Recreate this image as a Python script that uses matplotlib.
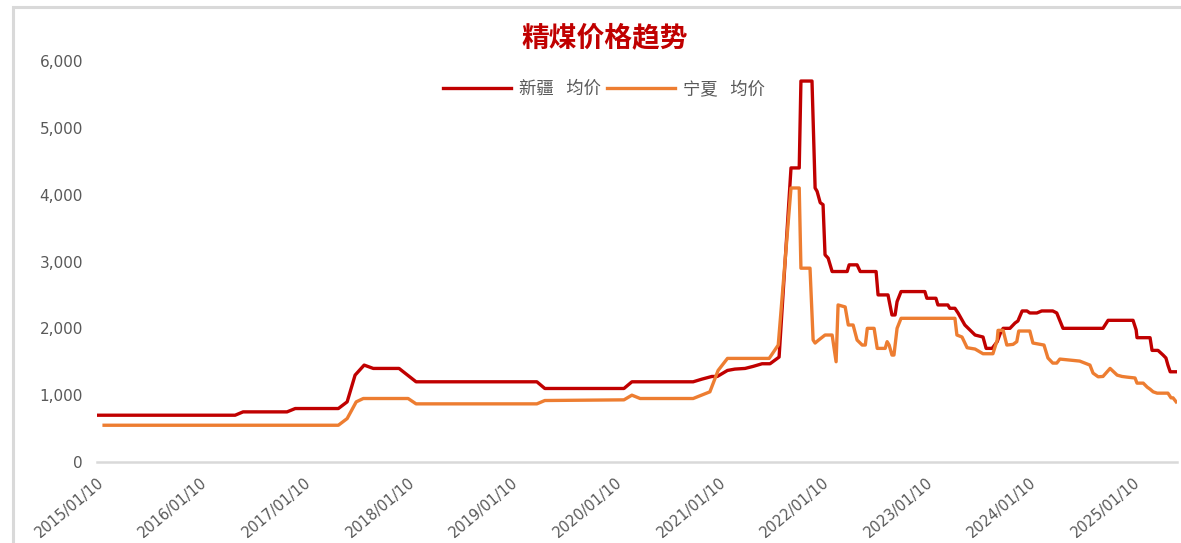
import matplotlib
matplotlib.use('Agg')
import matplotlib.pyplot as plt
import matplotlib.transforms as mtransforms
from matplotlib.patches import Rectangle
from matplotlib.ticker import FuncFormatter
import pandas as pd

plt.rcParams['font.family'] = ['Noto Sans CJK SC', 'DejaVu Sans']

# 新疆 均价 (转折点)
xj_dates = ['2015-01-10', '2016-05-11', '2016-06-08', '2016-11-10', '2016-12-09',
            '2017-05-10', '2017-06-10', '2017-07-08', '2017-08-09', '2017-09-10',
            '2017-12-10', '2018-02-08', '2019-04-10', '2019-05-08', '2020-02-11',
            '2020-03-10', '2020-10-12', '2020-11-12', '2020-12-17', '2021-01-05',
            '2021-02-10', '2021-03-08', '2021-04-13', '2021-05-11', '2021-06-12',
            '2021-07-10', '2021-08-11', '2021-09-22', '2021-10-21', '2021-10-27',
            '2021-12-05', '2021-12-16', '2021-12-23', '2022-01-03', '2022-01-13',
            '2022-01-20', '2022-01-31', '2022-02-14', '2022-04-08', '2022-04-15',
            '2022-05-13', '2022-05-24', '2022-07-19', '2022-07-26', '2022-08-30',
            '2022-09-13', '2022-09-24', '2022-10-01', '2022-10-15', '2023-01-07',
            '2023-01-14', '2023-02-15', '2023-02-22', '2023-03-29', '2023-04-05',
            '2023-04-23', '2023-05-04', '2023-05-18', '2023-05-28', '2023-06-15',
            '2023-07-03', '2023-07-31', '2023-08-11', '2023-09-01', '2023-09-19',
            '2023-09-29', '2023-10-10', '2023-11-03', '2023-11-21', '2023-12-01',
            '2023-12-16', '2024-01-02', '2024-01-12', '2024-02-06', '2024-02-23',
            '2024-04-02', '2024-04-16', '2024-05-08', '2024-09-26', '2024-10-14',
            '2025-01-10', '2025-01-21', '2025-01-24', '2025-03-11', '2025-03-18',
            '2025-04-08', '2025-04-26', '2025-05-06', '2025-05-13', '2025-05-21',
            '2025-06-11']
xj_price = [700, 700, 750, 750, 800,
            800, 900, 1300, 1450, 1400,
            1400, 1200, 1200, 1100, 1100,
            1200, 1200, 1240, 1280, 1280,
            1370, 1390, 1400, 1430, 1470,
            1470, 1570, 4400, 4400, 5700,
            5700, 4100, 4050, 3880, 3850,
            3100, 3050, 2850, 2850, 2950,
            2950, 2850, 2850, 2500, 2500,
            2200, 2200, 2400, 2550, 2550,
            2450, 2450, 2350, 2350, 2300,
            2300, 2230, 2125, 2050, 1975,
            1900, 1870, 1700, 1700, 1800,
            1915, 2000, 2000, 2080, 2110,
            2260, 2260, 2230, 2230, 2260,
            2260, 2230, 2000, 2000, 2120,
            2120, 1975, 1860, 1860, 1670,
            1670, 1600, 1556, 1450, 1350,
            1350]

# 宁夏 均价 (转折点)
nx_dates = ['2015-02-04', '2017-05-10', '2017-06-10', '2017-07-12', '2017-08-06',
            '2018-01-11', '2018-02-08', '2019-04-10', '2019-05-08', '2020-02-11',
            '2020-03-10', '2020-04-08', '2020-10-12', '2020-12-10', '2021-01-08',
            '2021-02-10', '2021-07-07', '2021-08-08', '2021-09-22', '2021-10-21',
            '2021-10-27', '2021-11-28', '2021-12-09', '2021-12-16', '2021-12-27',
            '2022-01-20', '2022-02-14', '2022-02-28', '2022-03-07', '2022-04-01',
            '2022-04-12', '2022-04-29', '2022-05-13', '2022-05-31', '2022-06-11',
            '2022-06-18', '2022-07-12', '2022-07-23', '2022-08-20', '2022-08-27',
            '2022-09-03', '2022-09-13', '2022-09-20', '2022-10-01', '2022-10-15',
            '2023-04-23', '2023-04-30', '2023-05-18', '2023-06-05', '2023-07-03',
            '2023-07-31', '2023-09-04', '2023-09-19', '2023-09-22', '2023-10-10',
            '2023-10-23', '2023-11-14', '2023-11-27', '2023-12-04', '2024-01-12',
            '2024-01-23', '2024-03-02', '2024-03-16', '2024-04-02', '2024-04-16',
            '2024-04-27', '2024-07-06', '2024-08-11', '2024-08-22', '2024-09-09',
            '2024-09-26', '2024-10-21', '2024-11-15', '2024-12-02', '2024-12-20',
            '2025-01-17', '2025-01-24', '2025-02-15', '2025-03-01', '2025-03-11',
            '2025-03-22', '2025-04-05', '2025-05-13', '2025-05-24', '2025-05-31',
            '2025-06-11']
nx_price = [550, 550, 650, 900, 950,
            950, 870, 870, 920, 930,
            1000, 950, 950, 1050, 1370,
            1550, 1550, 1750, 4100, 4100,
            2900, 2900, 1825, 1780, 1820,
            1900, 1900, 1500, 2350, 2320,
            2050, 2050, 1825, 1750, 1750,
            2000, 2000, 1700, 1700, 1800,
            1750, 1600, 1600, 2000, 2150,
            2150, 1900, 1870, 1710, 1690,
            1620, 1620, 1825, 1970, 1970,
            1750, 1760, 1800, 1960, 1960,
            1780, 1750, 1556, 1480, 1480,
            1540, 1510, 1450, 1330, 1275,
            1280, 1400, 1300, 1280, 1270,
            1257, 1180, 1180, 1120, 1090,
            1050, 1030, 1030, 960, 960,
            900]

tick_years = list(range(2015, 2026))
tick_labels = [f'{y}/01/10' for y in tick_years]

xj = pd.Series(xj_price, index=pd.to_datetime(xj_dates))
nx = pd.Series(nx_price, index=pd.to_datetime(nx_dates))

fig = plt.figure(figsize=(11.81, 5.43), dpi=100)
ax = fig.add_axes([97 / 1181, 1 - 462 / 543, 1080 / 1181, 401 / 543])

# 外框
fig.patches.append(Rectangle((13 / 1181, -0.05), 1.2, 1 - 7 / 543 + 0.05,
                             transform=fig.transFigure, fill=False,
                             edgecolor='#d9d9d9', linewidth=2.2))

ax.plot(xj.index, xj.values, color='#c00000', linewidth=2.4,
        label='新疆\u2002 均价')
ax.plot(nx.index, nx.values, color='#ed7d31', linewidth=2.4,
        label='宁夏\u2002 均价')

ax.set_ylim(0, 6000)
ax.set_yticks(range(0, 7000, 1000))
ax.yaxis.set_major_formatter(FuncFormatter(lambda v, p: f'{int(v):,}'))
ax.set_xlim(pd.Timestamp('2015-01-10'), pd.Timestamp('2025-06-14'))
ax.set_xticks(pd.to_datetime([f'{y}-01-10' for y in tick_years]))
ax.set_xticklabels(tick_labels, rotation=40, ha='right', va='top',
                   rotation_mode='anchor')
offset = mtransforms.ScaledTranslation(0.04, 0, fig.dpi_scale_trans)
for lab in ax.get_xticklabels():
    lab.set_transform(lab.get_transform() + offset)
    lab.set_fontfamily('DejaVu Sans')
    lab.set_fontsize(10.5)
for lab in ax.get_yticklabels():
    lab.set_fontfamily('DejaVu Sans')
    lab.set_fontsize(11)

ax.tick_params(axis='both', length=0, colors='#595959')
ax.tick_params(axis='y', pad=10)
ax.tick_params(axis='x', pad=9)

for s in ['top', 'right', 'left']:
    ax.spines[s].set_visible(False)
ax.spines['bottom'].set_color('#d9d9d9')
ax.spines['bottom'].set_linewidth(1.8)

fig.text(0.512, 1 - 38 / 543, '精煤价格趋势', color='#c00000', fontsize=20,
         fontweight='bold', ha='center', va='center')

leg = ax.legend(loc='center', bbox_to_anchor=((604 - 97) / 1080, (462 - 89) / 401),
                ncol=2, frameon=False, fontsize=12.5, handlelength=3.9,
                handletextpad=0.45, columnspacing=0.4, labelcolor='#595959')

fig.savefig('out.png', dpi=100)
